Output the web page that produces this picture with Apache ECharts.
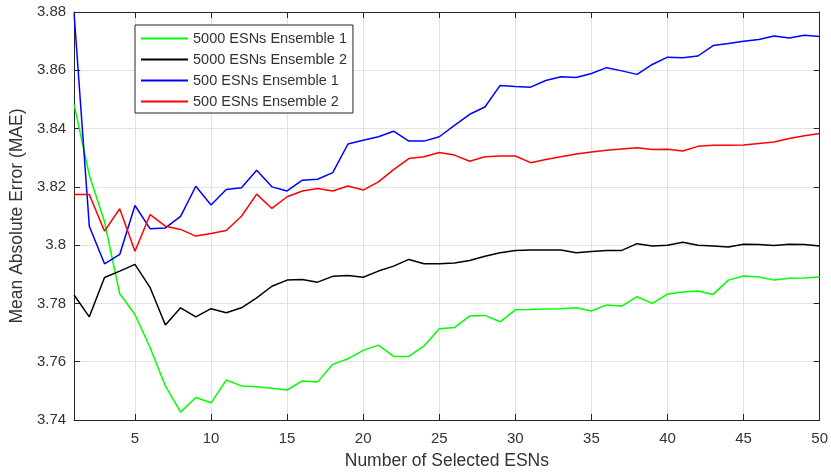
<!DOCTYPE html>
<html>
<head>
<meta charset="utf-8">
<script src="https://cdn.jsdelivr.net/npm/echarts@6/dist/echarts.min.js"></script>
<style>
html,body{margin:0;padding:0;background:#fff;}
#chart{width:831px;height:475px;}
</style>
</head>
<body>
<div id="chart"></div>
<script>
// ---- data ----
var xValues = [1,2,3,4,5,6,7,8,9,10,11,12,13,14,15,16,17,18,19,20,21,22,23,24,25,26,27,28,29,30,31,32,33,34,35,36,37,38,39,40,41,42,43,44,45,46,47,48,49,50];
var xTicks = [5,10,15,20,25,30,35,40,45,50];
var seriesNames = ['5000 ESNs Ensemble 1','5000 ESNs Ensemble 2','500 ESNs Ensemble 1','500 ESNs Ensemble 2'];
var green5000E1 = [3.8483,3.8240,3.8080,3.7833,3.7762,3.7648,3.7517,3.7427,3.7477,3.7459,3.7537,3.7517,3.7514,3.7509,3.7503,3.7534,3.7530,3.7591,3.7610,3.7639,3.7657,3.7618,3.7618,3.7654,3.7713,3.7717,3.7757,3.7759,3.7737,3.7778,3.7779,3.7781,3.7782,3.7785,3.7774,3.7795,3.7791,3.7823,3.7800,3.7832,3.7839,3.7843,3.7831,3.7880,3.7894,3.7891,3.7880,3.7886,3.7887,3.7891];
var black5000E2 = [3.7829,3.7754,3.7889,3.7911,3.7934,3.7854,3.7726,3.7785,3.7754,3.7782,3.7768,3.7785,3.7819,3.7859,3.7880,3.7882,3.7873,3.7893,3.7896,3.7890,3.7911,3.7928,3.7951,3.7936,3.7936,3.7939,3.7947,3.7962,3.7974,3.7982,3.7983,3.7983,3.7983,3.7974,3.7978,3.7982,3.7982,3.8005,3.7997,3.8000,3.8010,3.8000,3.7997,3.7994,3.8003,3.8002,3.7999,3.8003,3.8002,3.7997];
var blue500E1 = [3.8795,3.8065,3.7936,3.7968,3.8136,3.8056,3.8059,3.8099,3.8202,3.8138,3.8191,3.8197,3.8257,3.8200,3.8186,3.8223,3.8226,3.8249,3.8347,3.8360,3.8372,3.8391,3.8357,3.8357,3.8372,3.8411,3.8449,3.8474,3.8548,3.8544,3.8542,3.8565,3.8578,3.8575,3.8589,3.8609,3.8598,3.8586,3.8620,3.8645,3.8643,3.8649,3.8685,3.8692,3.8700,3.8706,3.8718,3.8711,3.8720,3.8716];
var red500E2 = [3.8174,3.8174,3.8048,3.8125,3.7979,3.8105,3.8065,3.8054,3.8031,3.8040,3.8050,3.8099,3.8175,3.8126,3.8166,3.8186,3.8194,3.8186,3.8203,3.8189,3.8217,3.8259,3.8297,3.8303,3.8318,3.8309,3.8288,3.8303,3.8306,3.8306,3.8283,3.8294,3.8303,3.8313,3.8320,3.8326,3.8330,3.8334,3.8328,3.8329,3.8323,3.8339,3.8343,3.8343,3.8344,3.8349,3.8354,3.8366,3.8375,3.8383];
var seriesColors = ['#00ff00','#000000','#0000ff','#ff0000'];
var xTitle = 'Number of Selected ESNs';
var yTitle = 'Mean Absolute Error (MAE)';

function pairs(ys){ return xValues.map(function(x,i){ return [x, ys[i]]; }); }
var allSeries = [green5000E1, black5000E2, blue500E1, red500E2];

var font = 'Liberation Sans, Arial, Helvetica, sans-serif';
var axisCol = '#262626';
var gridCol = '#e3e3e3';
var textCol = '#333333';

var chart = echarts.init(document.getElementById('chart'), null, {renderer:'canvas'});
chart.setOption({
  animation: false,
  backgroundColor: '#ffffff',
  grid: {left: 74, right: 11, top: 12, bottom: 54, containLabel: false},
  legend: {
    orient: 'vertical',
    left: 135, top: 25,
    padding: [6, 6, 4, 5],
    itemWidth: 47, itemHeight: 14, itemGap: 6,
    backgroundColor: '#ffffff',
    borderColor: axisCol, borderWidth: 1,
    itemStyle: {color: 'transparent', borderColor: 'transparent', borderWidth: 0, opacity: 0},
    textStyle: {fontFamily: font, fontSize: 14.5, color: textCol},
    data: seriesNames
  },
  xAxis: [{
    type: 'value', min: 1, max: 50, position: 'bottom',
    name: xTitle, nameLocation: 'middle', nameGap: 32,
    nameTextStyle: {fontFamily: font, fontSize: 17.5, color: textCol},
    axisLine: {show: true, onZero: false, lineStyle: {color: axisCol, width: 1}},
    axisTick: {show: true, inside: true, length: 6, customValues: xTicks, lineStyle: {color: axisCol}},
    axisLabel: {show: true, customValues: xTicks, margin: 11, fontFamily: font, fontSize: 15, color: textCol},
    splitLine: {show: true, lineStyle: {color: gridCol, width: 1}}
  }, {
    type: 'value', min: 1, max: 50, position: 'top',
    axisLine: {show: true, onZero: false, lineStyle: {color: axisCol, width: 1}},
    axisTick: {show: true, inside: true, length: 6, customValues: xTicks, lineStyle: {color: axisCol}},
    axisLabel: {show: false},
    splitLine: {show: false}
  }],
  yAxis: [{
    type: 'value', min: 3.74, max: 3.88, interval: 0.02, position: 'left',
    name: yTitle, nameLocation: 'middle', nameGap: 44,
    nameTextStyle: {fontFamily: font, fontSize: 17.5, color: textCol},
    axisLine: {show: true, onZero: false, lineStyle: {color: axisCol, width: 1}},
    axisTick: {show: true, inside: true, length: 6, lineStyle: {color: axisCol}},
    axisLabel: {margin: 8, fontFamily: font, fontSize: 15, color: textCol,
      formatter: function(v){ return String(parseFloat(v.toFixed(2))); }},
    splitLine: {show: true, lineStyle: {color: gridCol, width: 1}}
  }, {
    type: 'value', min: 3.74, max: 3.88, interval: 0.02, position: 'right',
    axisLine: {show: true, onZero: false, lineStyle: {color: axisCol, width: 1}},
    axisTick: {show: true, inside: true, length: 6, lineStyle: {color: axisCol}},
    axisLabel: {show: false},
    splitLine: {show: false}
  }],
  series: allSeries.map(function(ys, k){
    return {
      name: seriesNames[k], type: 'line', xAxisIndex: 0, yAxisIndex: 0,
      data: pairs(ys), symbol: 'none', smooth: false,
      lineStyle: {color: seriesColors[k], width: 1.5},
      itemStyle: {color: seriesColors[k]},
      emphasis: {disabled: true}
    };
  })
});
</script>
</body>
</html>
